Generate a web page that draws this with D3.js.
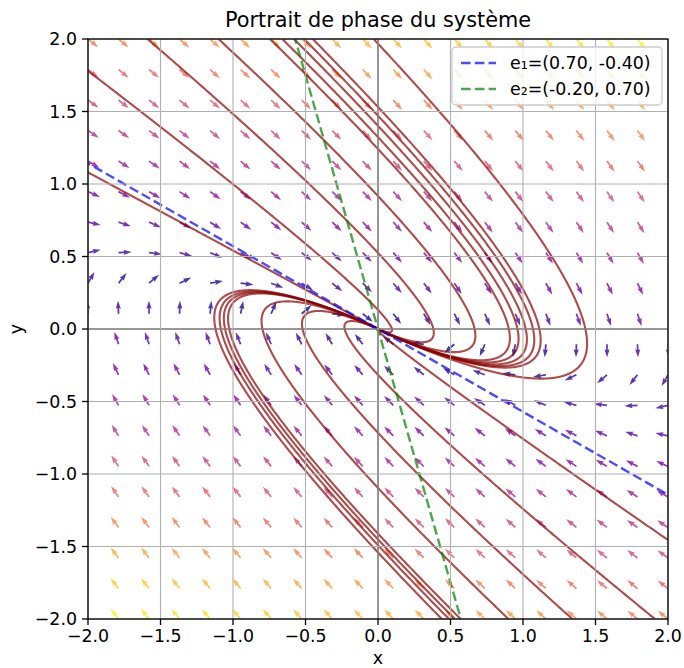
<!DOCTYPE html>
<html><head><meta charset="utf-8">
<script src="https://cdn.jsdelivr.net/npm/d3@7"></script>
<style>body{margin:0;background:#fff;} svg text{font-family:"DejaVu Sans",sans-serif;fill:#000;}</style>
</head><body><svg id="chart" width="684" height="668"></svg>
<script>
// ---- data ----
const title = "Portrait de phase du système";
const eigenvalue = -0.6;            // repeated eigenvalue (Jordan block)
const e1 = [0.70, -0.40];           // eigenvector
const e2 = [-0.20, 0.70];           // generalised eigenvector
const tickValues = [-2.0, -1.5, -1.0, -0.5, 0.0, 0.5, 1.0, 1.5, 2.0];
const tickLabels = ["\u22122.0", "\u22121.5", "\u22121.0", "\u22120.5", "0.0", "0.5", "1.0", "1.5", "2.0"];
const quiverCount = 20;
const legendLabels = ["e\u2081=(0.70, -0.40)", "e\u2082=(-0.20, 0.70)"];
// starting points of the trajectories (where they enter the frame)
const startX = [-2.00, -1.59, -1.10, -0.745, -0.66, -0.58, -0.51, -0.45, -0.03, -2.00,
                 2.00,  1.91,  1.34,  0.90,  0.57,  0.53,  0.49,  0.44];
const startY = [ 1.78,  2.00,  2.00,  2.00,  2.00,  2.00,  2.00,  2.00,  2.00,  1.08,
                -1.455, -2.00, -2.00, -2.00, -2.00, -2.00, -2.00, -2.00];

// ---- system matrix A = P J P^-1 ----
const P = [[e1[0], e2[0]], [e1[1], e2[1]]];
const det = P[0][0]*P[1][1] - P[0][1]*P[1][0];
const Pinv = [[P[1][1]/det, -P[0][1]/det], [-P[1][0]/det, P[0][0]/det]];
const J = [[eigenvalue, 1], [0, eigenvalue]];
function mul(M, N){ return [[M[0][0]*N[0][0]+M[0][1]*N[1][0], M[0][0]*N[0][1]+M[0][1]*N[1][1]],
                             [M[1][0]*N[0][0]+M[1][1]*N[1][0], M[1][0]*N[0][1]+M[1][1]*N[1][1]]]; }
const A = mul(mul(P, J), Pinv);
const field = p => [A[0][0]*p[0] + A[0][1]*p[1], A[1][0]*p[0] + A[1][1]*p[1]];

// ---- layout ----
const svg = d3.select("#chart");
const L = 88, R = 668, T = 39, B = 619;
const x = d3.scaleLinear().domain([-2, 2]).range([L, R]);
const y = d3.scaleLinear().domain([-2, 2]).range([B, T]);

svg.append("defs").append("clipPath").attr("id", "clip")
  .append("rect").attr("x", L).attr("y", T).attr("width", R-L).attr("height", B-T);
const plot = svg.append("g").attr("clip-path", "url(#clip)");

// ---- quiver ----
const gridVals = d3.range(quiverCount).map(i => -2 + 4*i/(quiverCount-1));
const arrows = [];
gridVals.forEach(gy => gridVals.forEach(gx => {
  const v = field([gx, gy]);
  arrows.push({gx, gy, u: v[0], v: v[1], m: Math.hypot(v[0], v[1])});
}));
const cNorm = d3.scaleLinear().domain(d3.extent(arrows, d => d.m)).range([0, 1]);
const aLen = 13, sw = 1.74, hw = 5.2, hl = 8.0, hal = 7.2;
const arrowPts = [[0,-sw/2],[aLen-hal,-sw/2],[aLen-hl,-hw/2],[aLen,0],[aLen-hl,hw/2],[aLen-hal,sw/2],[0,sw/2]];
plot.append("g").selectAll("polygon").data(arrows).join("polygon")
  .attr("points", arrowPts.map(p => p.join(",")).join(" "))
  .attr("transform", d => `translate(${x(d.gx)},${y(d.gy)}) rotate(${Math.atan2(-d.v, d.u)*180/Math.PI})`)
  .attr("fill", d => d3.interpolatePlasma(cNorm(d.m)))
  .attr("fill-opacity", 0.8);

// ---- grid ----
const gridG = svg.append("g");
tickValues.forEach(t => {
  gridG.append("line").attr("x1", x(t)).attr("x2", x(t)).attr("y1", T).attr("y2", B).attr("stroke", "#b0b0b0").attr("stroke-width", 1.1);
  gridG.append("line").attr("y1", y(t)).attr("y2", y(t)).attr("x1", L).attr("x2", R).attr("stroke", "#b0b0b0").attr("stroke-width", 1.1);
});
plot.append("line").attr("x1", L).attr("x2", R).attr("y1", y(0)).attr("y2", y(0)).attr("stroke", "#000").attr("stroke-width", 1.1);
plot.append("line").attr("y1", T).attr("y2", B).attr("x1", x(0)).attr("x2", x(0)).attr("stroke", "#000").attr("stroke-width", 1.1);

// ---- trajectories (forward integration from the entry points) ----
function rk4(p, h){
  const k1 = field(p);
  const k2 = field([p[0]+h/2*k1[0], p[1]+h/2*k1[1]]);
  const k3 = field([p[0]+h/2*k2[0], p[1]+h/2*k2[1]]);
  const k4 = field([p[0]+h*k3[0], p[1]+h*k3[1]]);
  return [p[0]+h/6*(k1[0]+2*k2[0]+2*k3[0]+k4[0]), p[1]+h/6*(k1[1]+2*k2[1]+2*k3[1]+k4[1])];
}
function trajectory(p0){
  const pts = [p0]; let p = p0;
  for (let i = 0; i < 20000; i++){ p = rk4(p, 0.005); pts.push(p); if (Math.hypot(p[0],p[1]) < 0.001) break; }
  return pts;
}
const line = d3.line().x(d => x(d[0])).y(d => y(d[1]));
const trajG = plot.append("g");
startX.forEach((sx, i) => {
  trajG.append("path").attr("d", line(trajectory([sx, startY[i]])))
    .attr("fill", "none").attr("stroke", "#8b0000").attr("stroke-opacity", 0.7).attr("stroke-width", 2.1);
});

// ---- eigenvector lines ----
const eigLines = [{v: e1, color: "#0000ff"}, {v: e2, color: "#008000"}];
eigLines.forEach(d => {
  const s = 10;
  plot.append("line")
    .attr("x1", x(-s*d.v[0])).attr("y1", y(-s*d.v[1])).attr("x2", x(s*d.v[0])).attr("y2", y(s*d.v[1]))
    .attr("stroke", d.color).attr("stroke-opacity", 0.7).attr("stroke-width", 2.4).attr("stroke-dasharray", "9.6,4.2");
});

// ---- spines & ticks ----
svg.append("rect").attr("x", L).attr("y", T).attr("width", R-L).attr("height", B-T)
  .attr("fill", "none").attr("stroke", "#000").attr("stroke-width", 1.3);
const axG = svg.append("g");
tickValues.forEach((t, i) => {
  axG.append("line").attr("x1", x(t)).attr("x2", x(t)).attr("y1", B).attr("y2", B+6).attr("stroke", "#000").attr("stroke-width", 1.3);
  axG.append("text").attr("x", x(t)).attr("y", B+23).attr("text-anchor", "middle").attr("font-size", 17.4).text(tickLabels[i]);
  axG.append("line").attr("y1", y(t)).attr("y2", y(t)).attr("x1", L-6).attr("x2", L).attr("stroke", "#000").attr("stroke-width", 1.3);
  axG.append("text").attr("x", L-11).attr("y", y(t)).attr("dy", "0.35em").attr("text-anchor", "end").attr("font-size", 17.4).text(tickLabels[i]);
});
svg.append("text").attr("x", (L+R)/2).attr("y", 664).attr("text-anchor", "middle").attr("font-size", 17.4).text("x");
svg.append("text").attr("transform", `translate(22,${(T+B)/2}) rotate(-90)`).attr("text-anchor", "middle").attr("font-size", 17.4).text("y");
svg.append("text").attr("x", (L+R)/2).attr("y", 27).attr("text-anchor", "middle").attr("font-size", 20.8).text(title);

// ---- legend ----
const lg = svg.append("g");
lg.append("rect").attr("x", 452).attr("y", 47).attr("width", 210).attr("height", 58).attr("rx", 4)
  .attr("fill", "#fff").attr("fill-opacity", 0.8).attr("stroke", "#cccccc").attr("stroke-width", 1.3);
eigLines.forEach((d, i) => {
  const ly = 63 + i*26;
  lg.append("line").attr("x1", 461).attr("x2", 496).attr("y1", ly).attr("y2", ly)
    .attr("stroke", d.color).attr("stroke-opacity", 0.7).attr("stroke-width", 2.4).attr("stroke-dasharray", "9.6,4.2");
  lg.append("text").attr("x", 510).attr("y", ly).attr("dy", "0.35em").attr("font-size", 17.4).text(legendLabels[i]);
});
</script></body></html>
